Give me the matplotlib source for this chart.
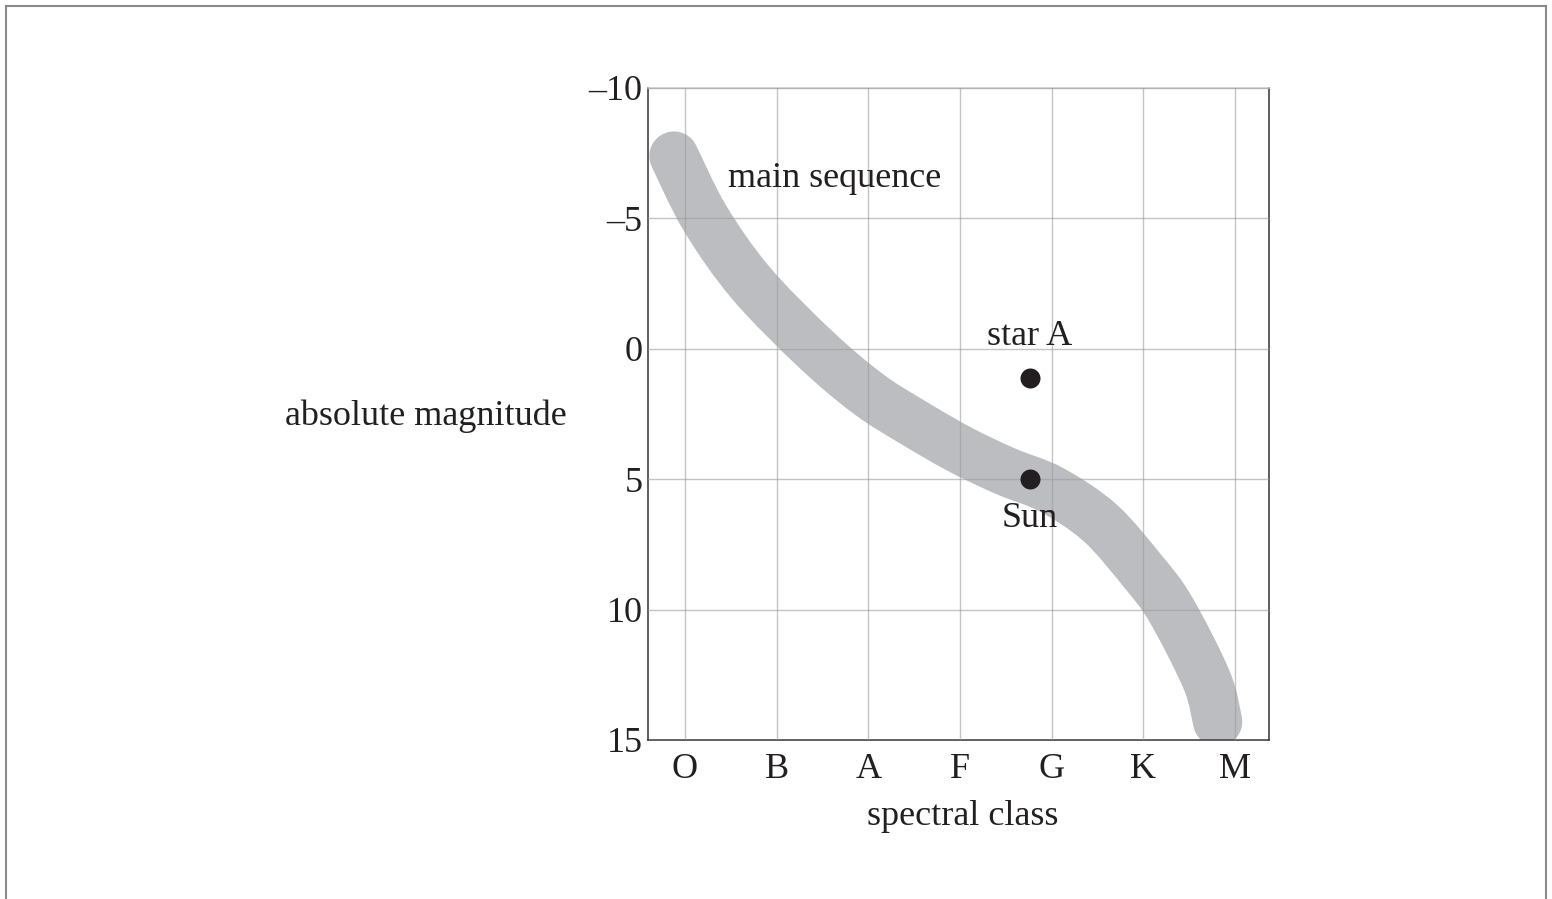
import matplotlib
matplotlib.use("Agg")
import matplotlib.pyplot as plt
from matplotlib.lines import Line2D
from matplotlib.path import Path
from matplotlib.patches import PathPatch

plt.rcParams['font.family'] = ['Liberation Serif', 'DejaVu Serif']

# ---- data ----
spectral_classes = ['O', 'B', 'A', 'F', 'G', 'K', 'M']
mag_ticks = [-10, -5, 0, 5, 10, 15]
mag_tick_labels = ['\u201310', '\u20135', '0', '5', '10', '15']

# main-sequence band centre line (spectral index, absolute magnitude)
ms_x = [-0.12, 0.22, 0.72, 1.42, 2.0, 2.5, 3.0, 3.5, 4.0, 4.53, 5.0, 5.30, 5.69, 5.81]
ms_y = [-7.39, -5.0, -2.52, 0.0, 1.73, 2.85, 3.86, 4.7, 5.41, 6.68, 8.56, 10.0, 12.7, 14.3]

star_names = ['star A', 'Sun']
star_x = [3.76, 3.76]
star_y = [1.12, 5.0]
label_y = [-0.15, 6.82]

FS = 26
TXT = '#231f20'


def smooth_path(xs, ys):
    """Smooth (Catmull-Rom as cubic Bezier) path through the given points."""
    pts = list(zip(xs, ys))
    n = len(pts)
    verts = [pts[0]]
    codes = [Path.MOVETO]
    for i in range(n - 1):
        p0 = pts[max(i - 1, 0)]
        p1 = pts[i]
        p2 = pts[i + 1]
        p3 = pts[min(i + 2, n - 1)]
        c1 = (p1[0] + (p2[0] - p0[0]) / 6.0, p1[1] + (p2[1] - p0[1]) / 6.0)
        c2 = (p2[0] - (p3[0] - p1[0]) / 6.0, p2[1] - (p3[1] - p1[1]) / 6.0)
        verts += [c1, c2, p2]
        codes += [Path.CURVE4] * 3
    return Path(verts, codes)


fig = plt.figure(figsize=(15.52, 8.99), dpi=100)
ax = fig.add_axes([648/1552, 1-740/899, (1269-648)/1552, (740-88)/899])

band = PathPatch(smooth_path(ms_x, ms_y), facecolor='none', edgecolor='#bcbdc0',
                 lw=35.5, capstyle='round', joinstyle='round', zorder=1)
ax.add_patch(band)

ax.scatter(star_x, star_y, s=14.4**2, color=TXT, zorder=4, linewidths=0)
for name, x, y in zip(star_names, star_x, label_y):
    ax.text(x, y, name, ha='center', va='baseline', fontsize=FS, color=TXT, zorder=5)

ax.text(0.47, -6.2, 'main sequence', ha='left', va='baseline', fontsize=FS, color=TXT)

ax.set_xlim(-0.403, 6.37)
ax.set_ylim(15, -10)
ax.set_xticks(range(len(spectral_classes)))
ax.set_xticklabels(spectral_classes)
ax.set_yticks(mag_ticks)
ax.set_yticklabels(mag_tick_labels)
ax.tick_params(length=0, labelsize=FS, labelcolor=TXT)
ax.tick_params(axis='x', pad=9)
ax.tick_params(axis='y', pad=4)

ax.grid(True, color='#9d9d9d', alpha=0.6, lw=1.0, zorder=2)
ax.set_axisbelow(False)
for s in ['left', 'bottom', 'right']:
    ax.spines[s].set_color('#333333')
    ax.spines[s].set_linewidth(1.1)
ax.spines['top'].set_color('#c5c5c5')
ax.spines['top'].set_linewidth(1.1)

ax.set_xlabel('spectral class', fontsize=FS, color=TXT)
ax.xaxis.set_label_coords(0.507, -0.092)
ax.xaxis.label.set_va('top')
ax.set_ylabel('absolute magnitude', rotation=0, ha='right', va='baseline',
              fontsize=FS, color=TXT)
ax.yaxis.set_label_coords(-0.1304, 0.483)

# outer frame
W, H = 1552, 899
kw = dict(color='#8a8a8a', lw=1.5, transform=fig.transFigure)
fig.add_artist(Line2D([5.7/W, 5.7/W], [0, 1-5.7/H], **kw))
fig.add_artist(Line2D([5.7/W, 1546/W], [1-5.7/H, 1-5.7/H], **kw))
fig.add_artist(Line2D([1546/W, 1546/W], [0, 1-5.7/H], **kw))

fig.savefig('out.png', dpi=100, facecolor='white')
